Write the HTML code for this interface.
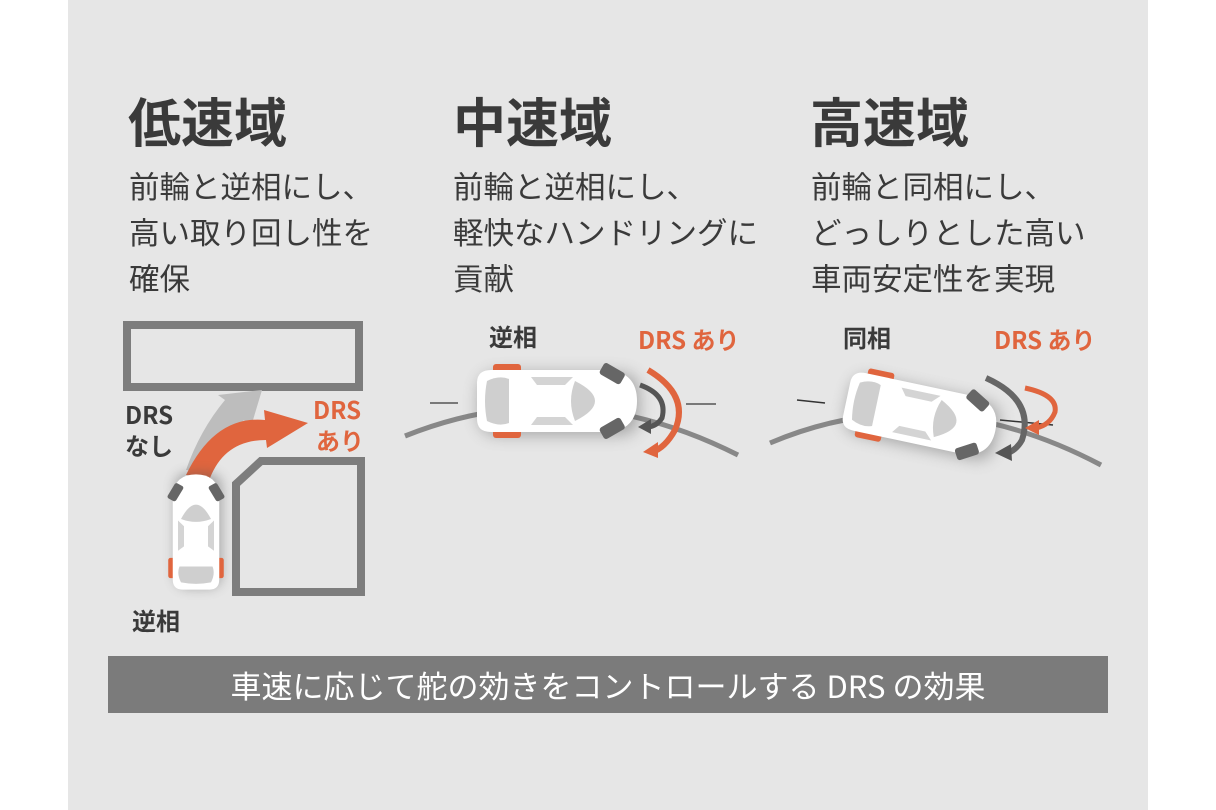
<!DOCTYPE html>
<html><head><meta charset="utf-8"><style>
html,body{margin:0;padding:0;background:#fff;}
body{width:1216px;height:810px;position:relative;overflow:hidden;font-family:"Liberation Sans","Noto Sans CJK JP",sans-serif;}
.panel{position:absolute;left:68px;top:0;width:1080px;height:810px;background:#e6e6e6;}
.t{position:absolute;font-weight:bold;font-size:53px;color:#3a3a3a;line-height:1;font-family:"Noto Sans CJK JP",sans-serif;}
.s{position:absolute;font-size:30.5px;color:#3a3a3a;line-height:46px;font-family:"Noto Sans CJK JP",sans-serif;}
.bar{position:absolute;left:108px;top:656px;width:1000px;height:57px;background:#7b7b7b;color:#fff;font-size:31px;text-align:center;line-height:57px;font-family:"Noto Sans CJK JP",sans-serif;}
svg{position:absolute;left:0;top:0;}
</style></head><body>
<div class="panel"></div>
<div class="t" style="left:128px;top:94px;">低速域</div>
<div class="t" style="left:453px;top:94px;">中速域</div>
<div class="t" style="left:810px;top:94px;">高速域</div>
<div class="s" style="left:129px;top:162px;">前輪と逆相にし、<br>高い取り回し性を<br>確保</div>
<div class="s" style="left:453px;top:162px;">前輪と逆相にし、<br>軽快なハンドリングに<br>貢献</div>
<div class="s" style="left:811px;top:162px;">前輪と同相にし、<br>どっしりとした高い<br>車両安定性を実現</div>
<div class="bar">車速に応じて舵の効きをコントロールする DRS の効果</div>
<svg width="1216" height="810" viewBox="0 0 1216 810">
<defs>
<filter id="sh" x="-50%" y="-50%" width="200%" height="200%"><feGaussianBlur stdDeviation="8"/></filter>
<g id="car">
<rect x="-78" y="-28" width="160" height="62" rx="18" fill="#555" opacity="0.45" filter="url(#sh)"/>
<rect x="-64" y="-37" width="28" height="13" rx="3" fill="#e0653e"/>
<rect x="-64" y="24" width="28" height="13" rx="3" fill="#e0653e"/>
<path d="M-80,-18 Q-80,-31 -66,-31 L52,-31 Q80,-28 80,0 Q80,28 52,31 L-66,31 Q-80,31 -80,18 Z" fill="#fff"/>
<path d="M-70,-20 Q-58,-26 -48,-22 L-48,22 Q-58,26 -70,20 Q-74,0 -70,-20Z" fill="#cfcfcf"/>
<path d="M-26,-24 L16,-24 L8,-16 L-20,-16 Z" fill="#d4d4d4"/>
<path d="M-26,24 L16,24 L8,16 L-20,16 Z" fill="#d4d4d4"/>
<path d="M18,-20 Q38,-10 38,0 Q38,10 18,20 Q10,0 18,-20Z" fill="#cfcfcf"/>
<g transform="translate(55,-27) rotate(30)"><rect x="-12" y="-7" width="24" height="13" rx="3" fill="#666"/></g>
<g transform="translate(55,27) rotate(-30)"><rect x="-12" y="-6" width="24" height="13" rx="3" fill="#666"/></g>
</g>
</defs>
<rect x="127" y="325" width="232" height="62" fill="none" stroke="#7d7d7d" stroke-width="8"/>
<path d="M361,461 L261,461 L236,484 L236,592 L361,592 Z" fill="none" stroke="#7d7d7d" stroke-width="8"/>
<path d="M186,470 Q200,430 225,400 L218,395 L262,390 L250,430 L244,420 Q220,450 210,472 Z" fill="#bdbdbd"/>
<path d="M186,475 Q215,415 265,420 L264,410 L308,423 L267,448 L266,440 Q225,440 210,478 Z" fill="#e0653e"/>
<g transform="translate(196,532) rotate(-90) scale(0.72,0.75)"><use href="#car"/></g>
<g font-family="Noto Sans CJK JP,sans-serif" font-size="24" font-weight="bold">
<text x="125" y="424" fill="#3a3a3a">DRS</text>
<text x="125" y="455" fill="#3a3a3a">なし</text>
<text x="313" y="419" fill="#e0653e">DRS</text>
<text x="316" y="450" fill="#e0653e">あり</text>
<text x="132" y="630" fill="#3a3a3a">逆相</text>
<text x="489" y="346" fill="#3a3a3a">逆相</text>
<text x="638" y="349" fill="#e0653e">DRS あり</text>
<text x="843" y="347" fill="#3a3a3a">同相</text>
<text x="994" y="349" fill="#e0653e">DRS あり</text>
</g>
<path d="M405,436 Q570,370 738,455" fill="none" stroke="#888" stroke-width="5"/>
<line x1="430" y1="403" x2="458" y2="403" stroke="#555" stroke-width="1.5"/>
<line x1="686" y1="404" x2="716" y2="404" stroke="#555" stroke-width="1.5"/>
<g transform="translate(557,401)"><use href="#car"/></g>
<path d="M648,370 Q690,395 675,430 Q665,448 652,452" fill="none" stroke="#e0653e" stroke-width="6"/>
<path d="M643,452 L658,442 L658,458Z" fill="#e0653e"/>
<path d="M640,385 Q668,395 662,418 Q657,426 648,427" fill="none" stroke="#555" stroke-width="5"/>
<path d="M638,427 L651,419 L651,434Z" fill="#555"/>
<path d="M770,443 Q930,375 1101,465" fill="none" stroke="#888" stroke-width="5"/>
<line x1="797" y1="400" x2="825" y2="403" stroke="#333" stroke-width="1.5"/>
<line x1="1000" y1="420" x2="1053" y2="425" stroke="#333" stroke-width="1.5"/>
<g transform="translate(921,415) rotate(12) scale(0.95)"><use href="#car"/></g>
<path d="M986,378 Q1035,400 1022,440 Q1016,451 1005,454" fill="none" stroke="#666" stroke-width="6"/>
<path d="M995,453 L1011,444 L1012,461Z" fill="#555"/>
<path d="M1025,388 Q1058,395 1055,412 Q1050,425 1036,428" fill="none" stroke="#e0653e" stroke-width="5"/>
<path d="M1025,428 L1039,420 L1039,435Z" fill="#e0653e"/>
</svg>
</body></html>
